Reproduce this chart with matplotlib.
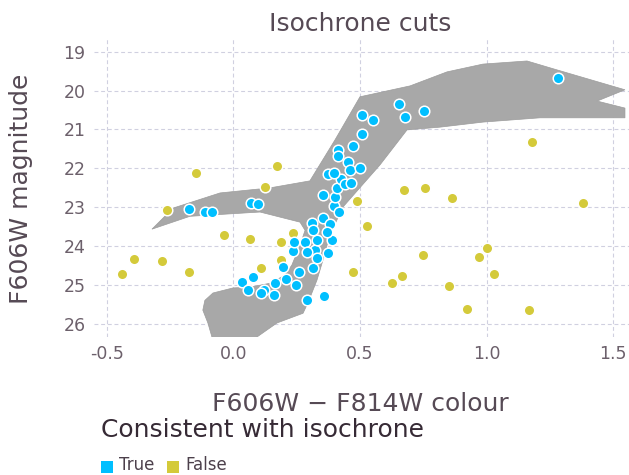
import matplotlib
matplotlib.use("Agg")
import matplotlib.pyplot as plt
from matplotlib.patches import Polygon, Rectangle

# ---- data ----
band_x = [-0.322, -0.239, -0.053, 0.144, 0.302, 0.401, 0.500, 0.698, 0.844, 0.986,
          1.160, 1.279, 1.547, 1.437, 1.547, 1.547, 1.211, 0.986, 0.816, 0.686,
          0.579, 0.433, 0.381, 0.354, 0.330, 0.294, 0.275, 0.172, 0.093, 0.065,
          -0.073, -0.085, -0.101, -0.121, -0.113, -0.081, -0.002, 0.065, 0.144, 0.204,
          0.231, 0.263, 0.283, 0.263, 0.105, -0.172]
band_y = [23.56, 23.02, 22.63, 22.50, 22.32, 21.27, 20.16, 19.88, 19.52, 19.32,
          19.24, 19.47, 19.98, 20.27, 20.45, 20.70, 20.70, 20.81, 20.94, 21.01,
          21.91, 22.99, 23.71, 24.35, 24.87, 25.46, 25.72, 25.97, 26.33, 26.67,
          26.67, 26.33, 25.97, 25.64, 25.39, 25.20, 25.07, 25.05, 24.95, 24.74,
          24.48, 23.97, 23.59, 23.38, 23.12, 23.23]

false_x = [-0.442, -0.392, -0.284, -0.176, -0.263, -0.149, -0.036, 0.065, 0.107, 0.125,
           0.171, 0.188, 0.186, 0.234, 0.487, 0.529, 0.471, 0.628, 0.665, 0.675,
           0.757, 0.862, 0.750, 0.853, 1.001, 0.969, 1.028, 0.924, 1.169, 1.181, 1.383]
false_y = [24.70, 24.33, 24.39, 24.67, 23.07, 22.13, 23.72, 23.82, 24.55, 22.47,
           21.93, 23.88, 24.35, 23.65, 22.83, 23.48, 24.66, 24.95, 24.77, 22.56,
           22.49, 22.75, 24.23, 25.02, 24.04, 24.28, 24.71, 25.60, 25.64, 21.32, 22.90]

true_x = [-0.176, -0.113, -0.084, 0.068, 0.096, 0.032, 0.078, 0.058, 0.119, 0.109,
          0.164, 0.160, 0.194, 0.209, 0.247, 0.260, 0.315, 0.289, 0.357, 0.236,
          0.322, 0.375, 0.329, 0.241, 0.283, 0.329, 0.388, 0.292, 0.310, 0.315,
          0.353, 0.381, 0.368, 0.397, 0.417, 0.355, 0.401, 0.408, 0.425, 0.440,
          0.464, 0.374, 0.398, 0.453, 0.460, 0.502, 0.414, 0.412, 0.474, 0.508,
          0.509, 0.553, 0.655, 0.679, 0.754, 1.284]
true_y = [23.05, 23.13, 23.11, 22.90, 22.92, 24.91, 24.80, 25.11, 25.11, 25.21,
          24.95, 25.25, 24.53, 24.85, 25.00, 24.66, 24.57, 25.37, 25.28, 24.12,
          24.10, 24.16, 24.31, 23.88, 23.89, 23.84, 23.85, 24.14, 23.41, 23.58,
          23.27, 23.42, 23.63, 22.97, 23.13, 22.68, 22.73, 22.51, 22.27, 22.40,
          22.38, 22.14, 22.13, 21.83, 22.04, 21.99, 21.52, 21.67, 21.43, 21.12,
          20.62, 20.76, 20.35, 20.69, 20.52, 19.68]

x_ticks = [-0.5, 0.0, 0.5, 1.0, 1.5]
y_ticks = [19, 20, 21, 22, 23, 24, 25, 26]
legend_labels = ["True", "False"]
colors = ["#00BFFF", "#D4CA3A"]

# ---- figure ----
W, H = 629, 475
fig = plt.figure(figsize=(W / 100, H / 100), dpi=100)
ax = fig.add_axes([94 / W, 1 - 337 / H, 1 - 94 / W, (337 - 38) / H])

ax.set_xlim(-0.551, 1.563)
ax.set_ylim(26.33, 18.65)

ax.add_patch(Polygon(list(zip(band_x, band_y)), closed=True,
                     facecolor="#a8a8a8", edgecolor="#9c9c9c", lw=0.5, zorder=2))

ax.scatter(false_x, false_y, s=58, c=colors[1], edgecolors="white",
           linewidths=1.1, zorder=3)
ax.scatter(true_x, true_y, s=58, c=colors[0], edgecolors="white",
           linewidths=1.1, zorder=4)

ax.set_xticks(x_ticks)
ax.set_xticklabels([f"{v:.1f}" for v in x_ticks])
ax.set_yticks(y_ticks)
ax.set_yticklabels([str(v) for v in y_ticks])
ax.grid(True, color="#D0D0E0", linestyle=(0, (3.5, 2.5)), linewidth=0.8, zorder=0)
ax.set_axisbelow(True)
for s in ax.spines.values():
    s.set_visible(False)
ax.tick_params(length=0, labelsize=12.5, labelcolor="#6c606b", pad=6)

# titles and labels
fig.text(360 / W, 1 - 31 / H, "Isochrone cuts", fontsize=18, color="#564a55",
         ha="center", va="baseline")
fig.text(360 / W, 1 - 411 / H, "F606W \u2212 F814W colour", fontsize=18,
         color="#564a55", ha="center", va="baseline")
fig.text(21.5 / W, 1 - 189 / H, "F606W magnitude", fontsize=18, color="#564a55",
         ha="center", va="center", rotation=90)

# legend
fig.text(100.8 / W, 1 - 437 / H, "Consistent with isochrone", fontsize=18,
         color="#362a35", ha="left", va="baseline")
sq_x = [100.8, 166.5]
tx_x = [119, 185.5]
for lab, col, sx, tx in zip(legend_labels, colors, sq_x, tx_x):
    fig.add_artist(Rectangle((sx / W, 1 - 473 / H), 12 / W, 12 / H,
                             transform=fig.transFigure, facecolor=col,
                             edgecolor="none"))
    fig.text(tx / W, 1 - 470.5 / H, lab, fontsize=12, color="#4c404b",
             ha="left", va="baseline")

fig.savefig("out.png", dpi=100)
